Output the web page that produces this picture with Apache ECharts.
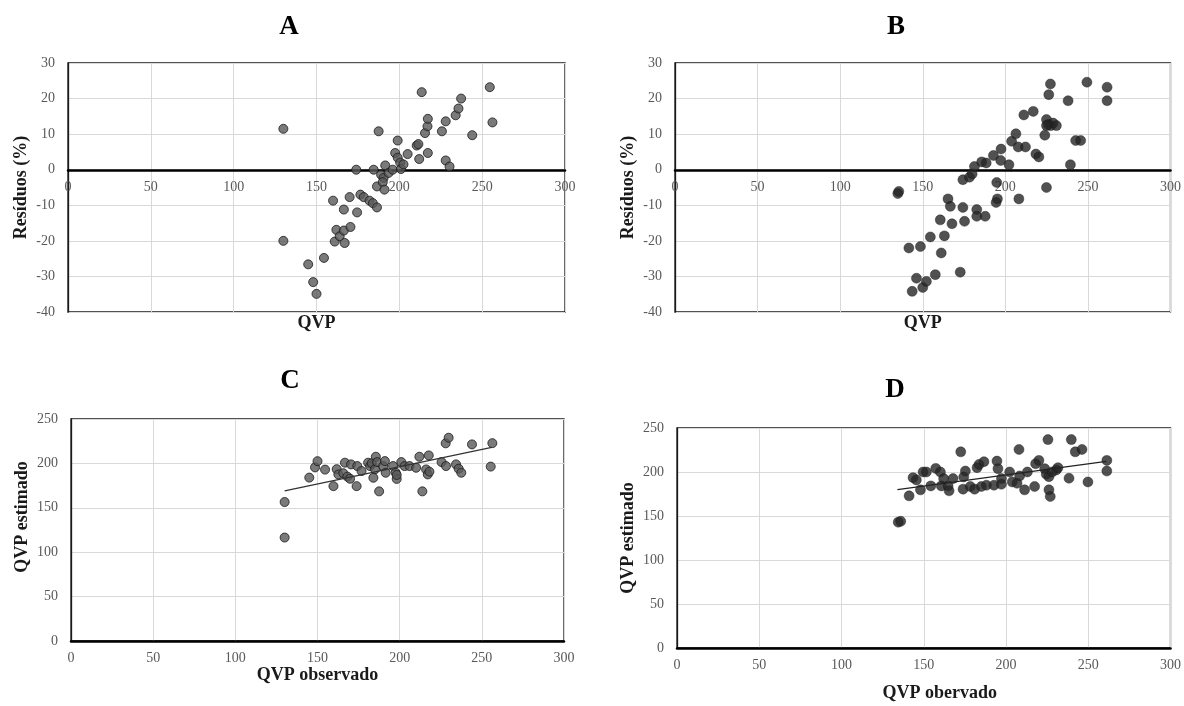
<!DOCTYPE html>
<html><head><meta charset="utf-8">
<script src="https://cdn.jsdelivr.net/npm/echarts@6/dist/echarts.min.js"></script>
<style>html,body{margin:0;padding:0;background:#fff}#c{width:1184px;height:706px}</style>
</head><body><div id="c"></div>
<script>
const panelTitles = ['A', 'B', 'C', 'D'];
const xNames = ['QVP', 'QVP', 'QVP observado', 'QVP obervado'];
const yNames = ['Resíduos (%)', 'Resíduos (%)', 'QVP estimado', 'QVP estimado'];

const residA = [[130,11.5],[130,-20],[145,-26.6],[148,-31.6],[150,-34.9],[154.5,-24.8],[160,-8.7],[161,-20.2],[162,-16.9],[164,-18.7],[166.5,-17.1],[167,-20.6],[166.5,-11.2],[170,-7.7],[170.5,-16.1],[174.5,-12],[174,0],[176.5,-7],[178.5,-7.7],[182,-8.7],[184,-9.4],[186.5,-10.6],[184.5,0],[186.5,-4.7],[187.5,10.8],[189,-1.4],[190.5,-2.3],[190,-3.5],[191,-5.6],[191.5,1.2],[193.5,-0.9],[196,0],[197.5,4.7],[199,3.4],[199,8.2],[200.5,2],[201,0.2],[202.5,1.5],[205,4.4],[210.5,6.8],[211.5,7.2],[212,3],[213.5,21.8],[215.5,10.3],[217,12.2],[217.2,14.3],[217.2,4.7],[225.7,10.8],[228,13.6],[228,2.6],[230.3,0.9],[234,15.3],[235.7,17.2],[237.3,20],[244,9.7],[254.6,23.2],[256.2,13.3]];

const residB = [[134.9,-6.7],[135.5,-6.1],[141.6,-22],[148.6,-21.6],[146.2,-30.5],[143.6,-34.2],[150,-33.1],[152.2,-31.4],[157.6,-29.5],[154.6,-18.9],[160.6,-14.1],[163.1,-18.6],[161.2,-23.4],[165.3,-8.2],[166.7,-10.3],[167.7,-15.2],[172.7,-28.8],[174.3,-10.6],[175.3,-14.5],[174.3,-2.8],[178.3,-2.1],[179.9,-1.2],[181.3,0.9],[185.7,2.2],[188.4,1.9],[182.7,-11.2],[182.7,-13.1],[187.8,-13.1],[192.8,4.0],[197.4,5.8],[197.2,2.6],[202.2,1.4],[194.8,-3.6],[195.2,-8.2],[194.4,-9.2],[208.2,-8.2],[203.8,8.0],[206.4,10.1],[207.8,6.4],[212.2,6.4],[211.2,15.4],[216.9,16.4],[218.5,4.4],[220.3,3.6],[223.9,9.7],[224.9,14.1],[225.9,12.7],[227.5,12.4],[228.9,13.1],[230.9,12.4],[224.9,12.4],[226.3,21.1],[227.3,24.1],[224.9,-5.0],[238,19.4],[239.4,1.4],[242.6,8.2],[245.6,8.2],[249.4,24.6],[261.6,23.2],[261.6,19.4]];

const estC = [[130,116.5],[130,156.5],[145,184],[148.5,195.5],[150,202.5],[154.6,193],[159.7,174.4],[161.7,193.5],[162.7,187.6],[165.7,188.9],[166.7,200.8],[168.2,185.1],[169.8,182.7],[170.4,198.9],[173.8,174.4],[174.2,197],[176.8,191.4],[180.8,200.8],[182,197],[183,200.2],[184,183.8],[185,193.4],[185.5,207.5],[186.3,201.5],[187.5,168.5],[190,197],[191,202.6],[191.5,189.5],[196,197],[197.6,189.5],[198.2,182.5],[198.2,187],[201,201.5],[203,197],[206,197],[210,195.1],[212,207.5],[213.8,168.5],[216.1,193.2],[217.1,187.6],[217.7,209],[218.1,190.7],[225.5,201.5],[228.2,197],[228,222.6],[229.8,228.9],[234.3,198.9],[235.9,194],[237.5,189.5],[244,221.4],[256.4,222.8],[255.4,196.4]];

const estD = [[134.5,143],[136,144],[141.1,172.9],[143.5,193.6],[145.5,191],[148,179.7],[149.6,200],[151.6,200],[154.3,184.2],[157.3,204.1],[160.1,200],[162.1,192.5],[160.7,184.2],[164.8,184.2],[165.4,178.6],[167.8,192.5],[172.5,222.9],[174.3,194.4],[175.3,201.1],[173.9,180.5],[178.3,183.5],[180.9,180.5],[182.4,204.9],[183.6,208.6],[186.6,211.7],[185,183.5],[188.1,185],[192.7,185],[194.5,212.4],[195.1,203.8],[197.2,192.5],[197.2,186.1],[202.2,200],[203.8,188.7],[206.7,187.2],[207.9,225.6],[208.3,195.5],[211.3,179.7],[213,200],[217.4,183.5],[218,209.4],[220,213.2],[223.5,203.8],[224.5,197.4],[226.1,194.7],[228.1,200],[230.6,202.3],[231.6,204.9],[225.5,236.8],[226.1,179.7],[226.9,172.2],[238.3,192.9],[239.7,236.8],[242.1,222.9],[246.2,225.6],[249.8,188.7],[261.3,213.2],[261.3,201.1]];

const trendC = [[130,169],[256,218]];
const trendD = [[134,180],[261,212]];

const xRange = {min: 0, max: 300, interval: 50};
const yRangeResid = {min: -40, max: 30, interval: 10};
const yRangeEst = {min: 0, max: 250, interval: 50};

const FONT = '"Liberation Serif", "Times New Roman", serif';

const grids = [
  {left: 68, top: 63, width: 497, height: 249},
  {left: 675, top: 63, width: 496, height: 249},
  {left: 71, top: 419, width: 493, height: 222},
  {left: 677, top: 428, width: 494, height: 220}
].map(g => Object.assign(g, {show: true, borderColor: '#1a1a1a', borderWidth: 1.3, backgroundColor: '#fff'}));

// residual panels: axis (with its labels) lifted from the bottom edge to the zero line
const xOffset = [-142, -142, 0, 0];
const xNameGap = [144, 144, 25, 36];
const xNamePad = [[0,0,0,0], [0,0,0,0], [0,0,0,0], [0,0,0,32]];
const yNameGap = [38, 38, 40, 40];
const yNamePad = [[0,0,0,0], [0,0,0,0], [0,0,0,26], [0,0,0,0]];

const xAxes = [0,1,2,3].map(i => Object.assign({
  type: 'value', gridIndex: i, position: 'bottom', offset: xOffset[i],
  name: xNames[i], nameLocation: 'middle', nameGap: xNameGap[i], nameMoveOverlap: false,
  nameTextStyle: {fontFamily: FONT, fontWeight: 'bold', fontSize: 18, color: '#1a1a1a', padding: xNamePad[i]},
  axisLine: {show: true, onZero: false, lineStyle: {color: '#000', width: 2.5}},
  axisTick: {show: false},
  axisLabel: {color: '#595959', fontSize: 14, fontFamily: FONT, margin: 10},
  splitLine: {show: true, lineStyle: {color: '#d9d9d9', width: 1}}
}, xRange));

const yAxes = [0,1,2,3].map(i => Object.assign({
  type: 'value', gridIndex: i,
  name: yNames[i], nameLocation: 'middle', nameGap: yNameGap[i], nameRotate: 90,
  nameTextStyle: {fontFamily: FONT, fontWeight: 'bold', fontSize: 18, color: '#1a1a1a', padding: yNamePad[i]},
  axisLine: {show: true, onZero: false, lineStyle: {color: '#1a1a1a', width: 1.3}},
  axisTick: {show: false},
  axisLabel: {color: '#595959', fontSize: 14, fontFamily: FONT, margin: 13},
  splitLine: {show: true, lineStyle: {color: '#d9d9d9', width: 1}}
}, i < 2 ? yRangeResid : yRangeEst));

const greyDot = {color: '#595959', borderColor: '#1a1a1a', borderWidth: 1};
const blackDot = {color: '#262626', borderColor: '#1a1a1a', borderWidth: 0.5};

const series = [
  {type: 'scatter', xAxisIndex: 0, yAxisIndex: 0, data: residA, symbolSize: 9, itemStyle: greyDot},
  {type: 'scatter', xAxisIndex: 1, yAxisIndex: 1, data: residB, symbolSize: 10, itemStyle: blackDot},
  {type: 'scatter', xAxisIndex: 2, yAxisIndex: 2, data: estC, symbolSize: 9, itemStyle: greyDot},
  {type: 'scatter', xAxisIndex: 3, yAxisIndex: 3, data: estD, symbolSize: 10, itemStyle: blackDot},
  {type: 'line', xAxisIndex: 2, yAxisIndex: 2, data: trendC, symbol: 'none', z: 5, lineStyle: {color: '#333', width: 1.3}},
  {type: 'line', xAxisIndex: 3, yAxisIndex: 3, data: trendD, symbol: 'none', z: 5, lineStyle: {color: '#222', width: 1.3}}
];

const titlePos = [[289, 27], [896, 27], [290, 381], [895, 390]];
const graphic = panelTitles.map((t, i) => ({
  type: 'text', x: titlePos[i][0], y: titlePos[i][1],
  style: {text: t, align: 'center', verticalAlign: 'middle', fill: '#000',
    font: 'bold 27px ' + FONT}
}));

const chart = echarts.init(document.getElementById('c'), null, {renderer: 'canvas'});
chart.setOption({
  animation: false,
  backgroundColor: '#fff',
  grid: grids,
  xAxis: xAxes,
  yAxis: yAxes,
  series: series,
  graphic: graphic
});
</script>
</body></html>
